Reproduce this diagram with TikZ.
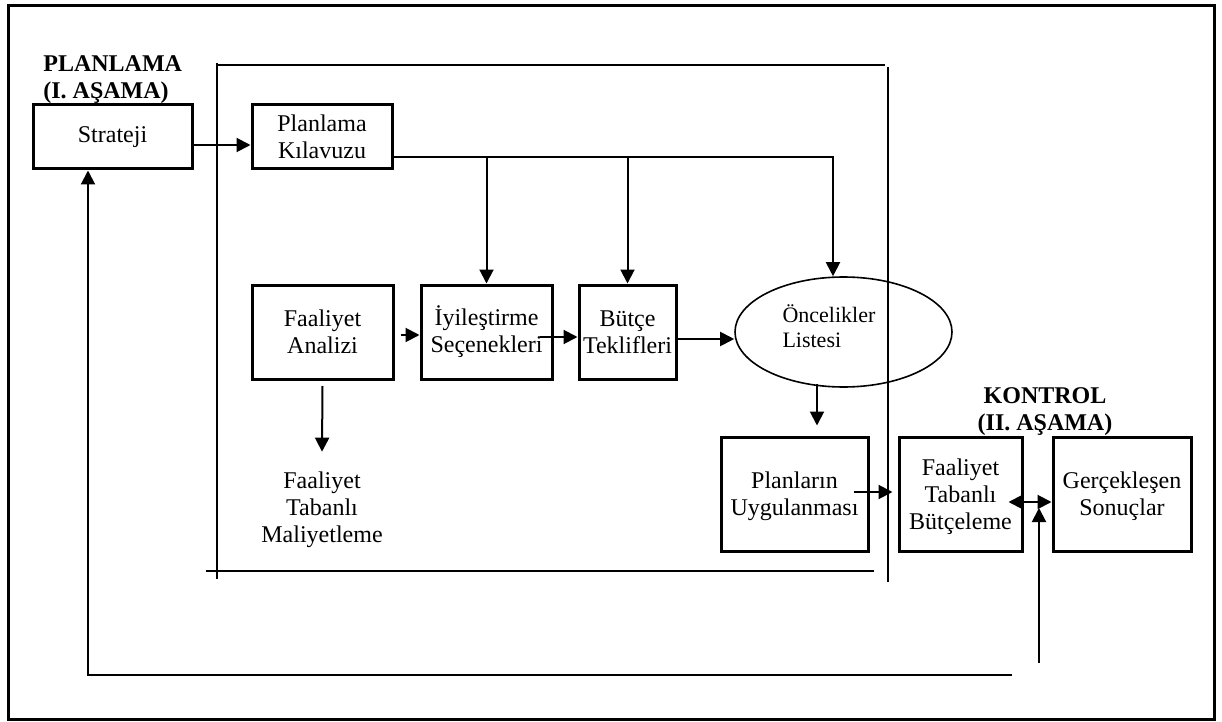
\documentclass[tikz,border=0pt]{standalone}
\usepackage{fontspec}
\setmainfont{Liberation Serif}
\usetikzlibrary{arrows.meta,shapes.geometric}

\begin{document}
\begin{tikzpicture}[x=0.5pt,y=-0.5pt,
    font=\fontsize{12}{13.5}\selectfont,
    box/.style={draw,line width=1.5pt,align=center,inner sep=0pt},
    lbl/.style={align=center,inner sep=0pt},
    title/.style={inner sep=0pt,font=\fontsize{12}{13.5}\selectfont\bfseries},
    arr/.style={line width=1pt,-{Triangle[length=7pt,width=7pt]}},
    dblarr/.style={line width=1pt,{Triangle[length=7pt,width=7pt]}-{Triangle[length=7pt,width=7pt]}},
    frame/.style={line width=0.8pt}]

    \useasboundingbox (0,0) rectangle (1222,722);
    \draw[line width=1.5pt] (8,6) rectangle (1214,719);

    % planlama cercevesi
    \draw[frame] (217,65) -- (885,65);
    \draw[frame] (217,63) -- (217,579);
    \draw[frame] (888,67) -- (888,582);
    \draw[frame] (206,571) -- (874,571);

    % basliklar
    \node[title,align=left,anchor=west] (planlbl) at (43,80) {PLANLAMA\\(I. AŞAMA)};
    \node[title,align=center] (ctrllbl) at (1045,412) {KONTROL\\(II. AŞAMA)};

    % kutular
    \node[box,minimum width=79.5pt,minimum height=32pt] (strat) at (112.5,137) {Strateji};
    \node[box,minimum width=70pt,minimum height=32pt] (guide) at (322,137) {Planlama\\Kılavuzu};

    \node[box,minimum width=70.5pt,minimum height=47pt] (act) at (322.5,332) {Faaliyet\\Analizi};
    \node[box,minimum width=65.5pt,minimum height=47pt] (impr) at (486.5,332) {İyileştirme\\Seçenekleri};
    \node[box,minimum width=48.5pt,minimum height=47pt] (bud) at (627.5,332) {Bütçe\\Teklifleri};
    \node[draw,ellipse,line width=0.8pt,minimum width=108.5pt,minimum height=55pt,
          text width=61pt,text depth=18.5pt,align=left,inner sep=0pt,font=\fontsize{11}{12.5}\selectfont]
          (prio) at (843.5,332) {Öncelikler\\Listesi};
    \node[lbl] (abc) at (322,510) {Faaliyet\\Tabanlı\\Maliyetleme};

    \node[box,text depth=0pt,minimum width=73.5pt,minimum height=57pt] (impl) at (794.5,494) {Planların\\Uygulanması};
    \node[box,text depth=0pt,minimum width=61.5pt,minimum height=57pt] (abb) at (960.5,494) {Faaliyet\\Tabanlı\\Bütçeleme};
    \node[box,text depth=0pt,minimum width=69pt,minimum height=57pt] (res) at (1122,494) {Gerçekleşen\\Sonuçlar};

    % baglantilar
    \draw[arr] ([yshift=-4pt]strat.east) -- ([yshift=-4pt]guide.west);
    \coordinate (gl) at ([yshift=-10pt]guide.east);
    \draw[arr] (gl) -| ([xshift=-5.25pt]prio.north);
    \draw[arr] (impr.north |- gl) -- (impr.north);
    \draw[arr] (bud.north |- gl) -- (bud.north);

    \draw[arr] ([xshift=3pt,yshift=-1.5pt]act.east) -- ([yshift=-1.5pt]impr.west);
    \draw[arr] ([xshift=-7pt,yshift=-2.5pt]impr.east) -- ([yshift=-2.5pt]bud.west);
    \draw[arr] ([yshift=-3.5pt]bud.east) -- ([yshift=-3.5pt]prio.west);
    \draw[arr] ([yshift=-2.75pt]act.south) -- ([yshift=10pt]abc.north);

    \coordinate (ps) at ([xshift=-13.25pt,yshift=2pt]prio.south);
    \draw[arr,shorten >=5pt] (ps) -- (ps |- impl.north);
    \draw[arr,shorten >=2.5pt] ([xshift=-8pt,yshift=1pt]impl.east) -- ([yshift=1pt]abb.west);
    \draw[dblarr] ([xshift=-7.5pt,yshift=-4pt]abb.east) -- ([yshift=-4pt]res.west);

    % geri bildirim
    \coordinate (fbs) at (1039,663);
    \coordinate (fbt) at (1039,508);
    \draw[arr] (fbs) -- (fbt);
    \coordinate (fbe) at (1012,675);
    \draw[arr] (fbe) -| ([xshift=-12.25pt]strat.south);

\end{tikzpicture}
\end{document}
